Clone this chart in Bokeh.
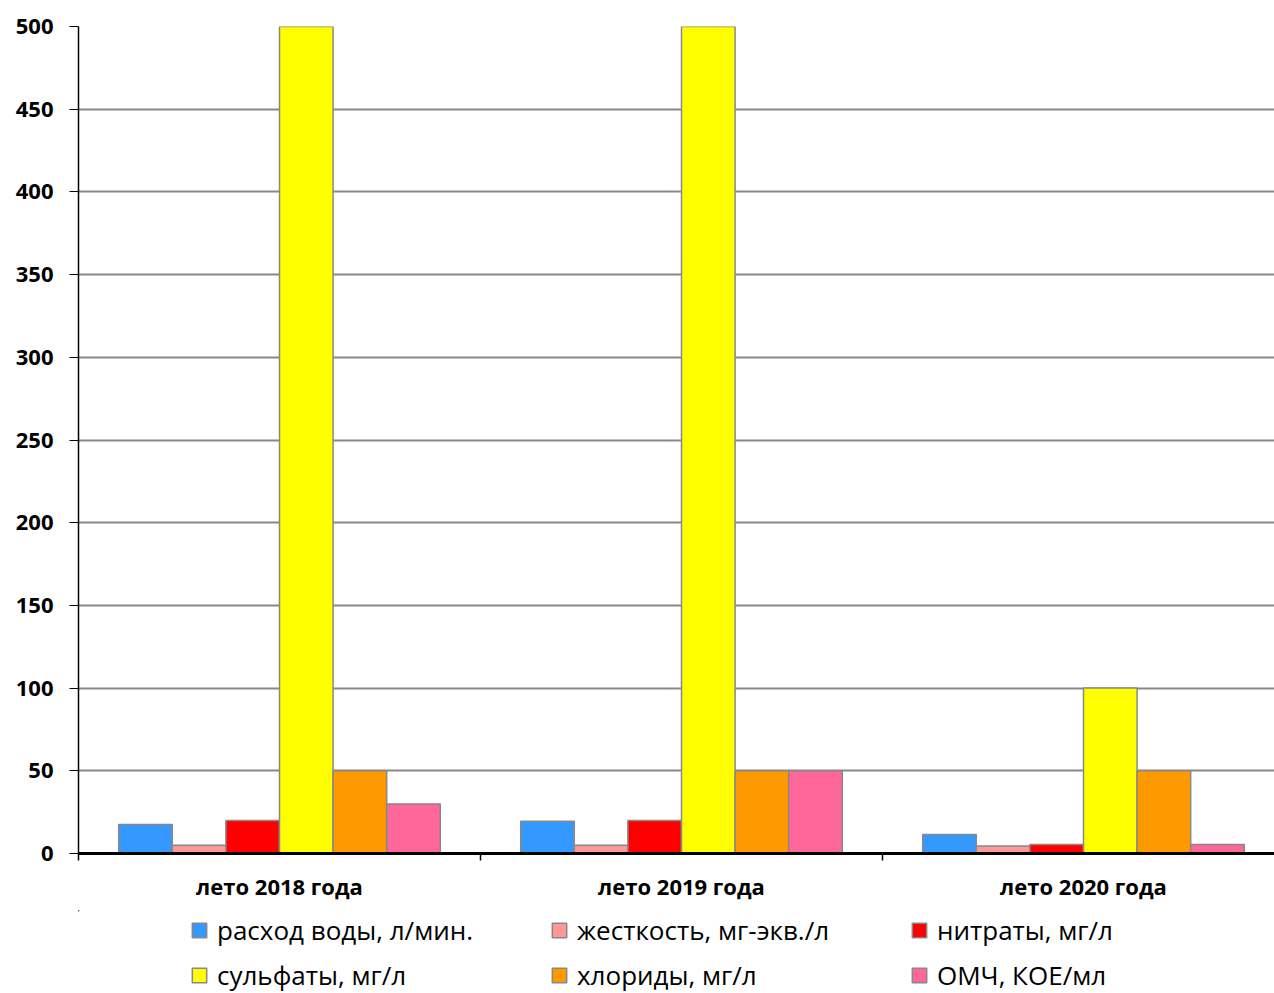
from bokeh.plotting import figure
from bokeh.models import ColumnDataSource, FixedTicker, Legend, LegendItem, Range1d
from bokeh.layouts import column
from bokeh.transform import dodge
from bokeh.embed import file_html
from bokeh.resources import INLINE

categories = ["лето 2018 года", "лето 2019 года", "лето 2020 года"]
series_names = ["расход воды, л/мин.", "жесткость, мг-экв./л", "нитраты, мг/л",
                "сульфаты, мг/л", "хлориды, мг/л", "ОМЧ, КОЕ/мл"]
rashod = [17.5, 19.5, 11.5]
zhestkost = [5, 5, 4.5]
nitraty = [20, 20, 5.5]
sulfaty = [500, 500, 100]
hloridy = [50, 50, 50]
omch = [30, 50, 5.5]
colors = ["#3399FF", "#FF9999", "#FF0000", "#FFFF00", "#FF9900", "#FF6699"]
y_ticks = [0, 50, 100, 150, 200, 250, 300, 350, 400, 450, 500]

series = [rashod, zhestkost, nitraty, sulfaty, hloridy, omch]
centers = [i + 0.5 for i in range(len(categories))]
data = {"x": centers}
for i, s in enumerate(series):
    data[f"s{i}"] = s
src = ColumnDataSource(data)

p = figure(frame_width=1196, frame_height=827, output_backend="svg", toolbar_location=None,
           x_range=Range1d(0, 1196 / 402), y_range=Range1d(0, 500),
           min_border_left=78, min_border_top=26, min_border_right=0,
           min_border_bottom=57)
p.outline_line_color = None

bw = 0.8 / 6
for i in range(6):
    off = (i - 2.5) * bw
    p.vbar(x=dodge("x", off), top=f"s{i}", width=bw, source=src,
           fill_color=colors[i], line_color="#888888", line_width=1.5)

p.yaxis.ticker = FixedTicker(ticks=y_ticks)
p.yaxis.axis_line_color = "black"
p.yaxis.axis_line_width = 1.5
p.yaxis.major_tick_in = 0
p.yaxis.major_tick_out = 9
p.yaxis.minor_tick_line_color = None
p.yaxis.major_label_standoff = 16
p.yaxis.major_label_text_font = "Open Sans"
p.yaxis.major_label_text_font_style = "bold"
p.yaxis.major_label_text_font_size = "22px"
p.yaxis.major_label_text_color = "black"

p.xaxis.ticker = FixedTicker(ticks=centers, minor_ticks=[0, 1, 2, 3])
p.xaxis.major_label_overrides = {c: categories[i] for i, c in enumerate(centers)}
p.xaxis.major_tick_line_color = None
p.xaxis.minor_tick_in = 0
p.xaxis.minor_tick_out = 7
p.xaxis.minor_tick_line_color = "black"
p.xaxis.minor_tick_line_width = 1.5
p.xaxis.axis_line_color = "black"
p.xaxis.axis_line_width = 3
p.xaxis.major_label_standoff = 10
p.xaxis.major_label_text_font = "Open Sans"
p.xaxis.major_label_text_font_style = "bold"
p.xaxis.major_label_text_font_size = "22px"
p.xaxis.major_label_text_color = "black"

p.xgrid.grid_line_color = None
p.ygrid.ticker = FixedTicker(ticks=y_ticks)
p.ygrid.grid_line_color = "#888888"
p.ygrid.grid_line_width = 2

# legend strip below the chart (its bars use the same data but lie outside its visible ranges)
lf = figure(width=1274, height=83, output_backend="svg", toolbar_location=None,
            x_range=Range1d(10, 11), y_range=Range1d(-2, -1),
            x_axis_location=None, y_axis_location=None,
            min_border_left=0, min_border_right=0, min_border_top=0, min_border_bottom=0)
lf.grid.visible = False
lf.outline_line_color = None
items = []
for i in range(6):
    r = lf.vbar(x="x", top=f"s{i}", width=0.1, source=src,
                fill_color=colors[i], line_color="#888888", line_width=1.5)
    items.append(LegendItem(label=series_names[i], renderers=[r]))

legend = Legend(items=items, orientation="horizontal", ncols=3,
                glyph_width=18, glyph_height=18, spacing=9,
                label_width=324, label_height=30,
                label_text_font="Open Sans", label_text_font_size="26px",
                label_text_color="black", label_standoff=9,
                border_line_color=None, background_fill_alpha=0,
                padding=0, margin=0, location=(112, 0))
lf.add_layout(legend, "center")

open("out.html", "w").write(file_html(column(p, lf, spacing=0), INLINE))
